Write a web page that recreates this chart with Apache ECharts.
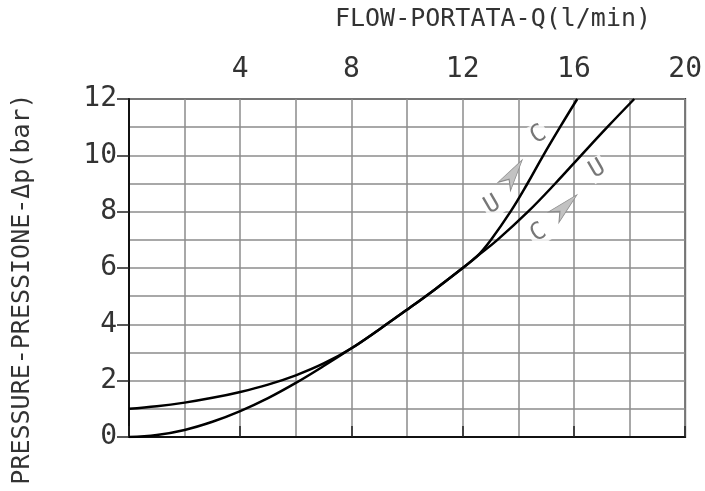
<!DOCTYPE html>
<html>
<head>
<meta charset="utf-8">
<script src="https://cdn.jsdelivr.net/npm/echarts@6/dist/echarts.min.js"></script>
<style>
  html, body { margin: 0; padding: 0; background: #fff; }
  #main { width: 705px; height: 491px; }
</style>
</head>
<body>
<div id="main"></div>
<script>
// curve starting at 1 bar (flatter after 12 l/min)
var curveA = [[0, 1.0], [1, 1.09], [2, 1.22], [3, 1.39], [4, 1.6], [5, 1.86], [6, 2.19], [7, 2.61],
  [8, 3.15], [9, 3.82], [10, 4.52], [11, 5.24], [12, 6.0], [12.5, 6.4], [13.25, 7.0], [14.35, 8.0],
  [15.33, 9.0], [16.26, 10.0], [17.2, 11.0], [18.17, 12.0]];
// curve starting at 0 bar (steeper after 12 l/min)
var curveB = [[0, 0], [1, 0.07], [2, 0.25], [3, 0.54], [4, 0.92], [5, 1.38], [6, 1.92], [7, 2.52],
  [8, 3.15], [9, 3.82], [10, 4.52], [11, 5.24], [12, 6.0], [12.5, 6.4], [13, 6.98], [13.72, 8.0],
  [14.33, 9.0], [14.9, 10.0], [15.5, 11.0], [16.12, 12.0]];
// C / U markers next to the curves
var letters = [
  { name: 'C', value: [14.72, 10.72] },
  { name: 'U', value: [13.07, 8.24] },
  { name: 'U', value: [16.84, 9.51] },
  { name: 'C', value: [14.72, 7.24] }
];
// arrow heads: [x, y, rotation]
var arrows = [[13.82, 9.37, -34], [15.69, 8.2, -46]];

var xName = 'FLOW-PORTATA-Q(l/min)';
var yName = 'PRESSURE-PRESSIONE-\u0394p(bar)';

var FONT = '"DejaVu Sans Mono", monospace';
var gridLine = { color: '#8c8c8c', width: 1.5 };

var chart = echarts.init(document.getElementById('main'));

var option = {
  backgroundColor: '#fff',
  animation: false,
  grid: {
    left: 129, right: 19, top: 99, bottom: 54,
    show: true, borderColor: '#333', borderWidth: 2
  },
  graphic: [
    {
      type: 'text', x: 493, y: 19,
      style: { text: xName, font: '25px ' + FONT, fill: '#333', align: 'center', verticalAlign: 'middle',
        textAlign: 'center', textVerticalAlign: 'middle' }
    },
    {
      type: 'text', x: 22, y: 289, rotation: Math.PI / 2,
      style: { text: yName, font: '25px ' + FONT, fill: '#333', align: 'center', verticalAlign: 'middle',
        textAlign: 'center', textVerticalAlign: 'middle' }
    }
  ],
  xAxis: {
    type: 'value', position: 'top', min: 0, max: 20, interval: 4,
    axisLine: { show: true, lineStyle: { color: '#111', width: 2 } },
    axisTick: { show: true, inside: false, length: 11, lineStyle: { color: '#222', width: 1.5 } },
    axisLabel: {
      margin: 15, color: '#333', fontFamily: 'DejaVu Sans Mono', fontSize: 28,
      formatter: function (v) { return v === 0 ? '' : String(v); }
    },
    splitLine: { show: true, lineStyle: gridLine },
    minorTick: { show: false, splitNumber: 2 },
    minorSplitLine: { show: true, lineStyle: gridLine }
  },
  yAxis: {
    type: 'value', min: 0, max: 12, interval: 2,
    axisLine: { show: true, lineStyle: { color: '#111', width: 2 } },
    axisTick: { show: true, inside: false, length: 12, lineStyle: { color: '#222', width: 1.5 } },
    axisLabel: { margin: 12, color: '#333', fontFamily: 'DejaVu Sans Mono', fontSize: 28 },
    splitLine: { show: true, lineStyle: gridLine },
    minorTick: { show: false, splitNumber: 2 },
    minorSplitLine: { show: true, lineStyle: gridLine }
  },
  series: [
    {
      type: 'scatter', silent: true, z: 2,
      symbol: 'path://M7,0 L14,30 L7,22 L0,30 Z',
      symbolSize: [15, 32],
      symbolRotate: function (v) { return v[2]; },
      itemStyle: { color: '#c2c2c2', borderColor: '#8a8a8a', borderWidth: 1, opacity: 1 },
      data: arrows
    },
    {
      type: 'scatter', silent: true, z: 2, symbolSize: 0,
      label: {
        show: true, position: 'inside', rotate: 30,
        formatter: function (p) { return p.name; },
        fontFamily: 'DejaVu Sans Mono', fontSize: 24, color: '#555',
        backgroundColor: '#fff', padding: [0, 2]
      },
      data: letters
    },
    {
      type: 'line', smooth: 0.4, showSymbol: false, silent: true, z: 4,
      lineStyle: { color: '#000', width: 2.5 },
      data: curveA
    },
    {
      type: 'line', smooth: 0.4, showSymbol: false, silent: true, z: 4,
      lineStyle: { color: '#000', width: 2.5 },
      data: curveB
    }
  ]
};

chart.setOption(option);
</script>
</body>
</html>
